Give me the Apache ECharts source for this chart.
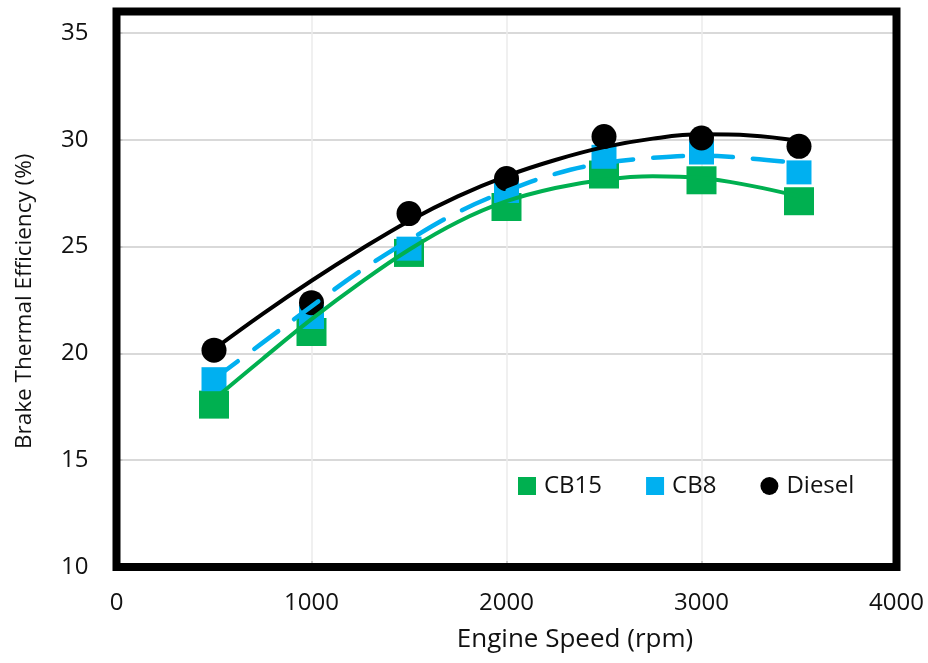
<!DOCTYPE html>
<html>
<head>
<meta charset="utf-8">
<script src="https://cdn.jsdelivr.net/npm/echarts@6/dist/echarts.min.js"></script>
<style>
  html, body { margin: 0; padding: 0; background: #fff; }
  #chart { width: 928px; height: 663px; }
</style>
</head>
<body>
<div id="chart"></div>
<script>
// Measured points
var rpm = [500, 1000, 1500, 2000, 2500, 3000, 3500];
var cb15 = [17.6, 21.0, 24.7, 26.85, 28.37, 28.1, 27.12];
var cb8 = [18.79, 21.7, 24.9, 27.6, 29.2, 29.4, 28.47];
var diesel = [20.15, 22.37, 26.54, 28.18, 30.15, 30.08, 29.69];

// Trend lines
var trendRpm = [500, 750, 1000, 1250, 1500, 1750, 2000, 2250, 2500, 2750, 3000, 3250, 3500];
var cb15Trend = [17.85, 19.75, 21.6, 23.3, 24.85, 26.15, 27.12, 27.74, 28.13, 28.29, 28.21, 27.85, 27.35];
var cb8Trend = [18.8, 20.5, 22.2, 23.85, 25.3, 26.6, 27.6, 28.4, 28.9, 29.15, 29.25, 29.12, 28.9];
var dieselTrend = [20.2, 21.85, 23.4, 24.85, 26.2, 27.35, 28.3, 29.05, 29.65, 30.05, 30.25, 30.2, 29.95];

var xTicks = [0, 1000, 2000, 3000, 4000];
var yTicks = [10, 15, 20, 25, 30, 35];

var names = ['CB15', 'CB8', 'Diesel'];
var colors = ['#00B050', '#00B0F0', '#000000'];

function pairs(xs, ys) { return xs.map(function (x, i) { return [x, ys[i]]; }); }

var FONT = 'Open Sans';

var chart = echarts.init(document.getElementById('chart'), null, { renderer: 'canvas' });
chart.setOption({
  backgroundColor: '#ffffff',
  animation: false,
  textStyle: { fontFamily: FONT },
  grid: {
    show: true, z: 10,
    left: 116.5, right: 31.5, top: 11.5, bottom: 96,
    borderColor: '#000', borderWidth: 8,
    backgroundColor: 'transparent'
  },
  legend: {
    left: 513, top: 469,
    itemWidth: 18, itemHeight: 18, itemGap: 44,
    textStyle: { fontSize: 24, color: '#111', fontFamily: FONT, padding: [0, 0, 0, 3] },
    data: [
      { name: names[0], icon: 'rect' },
      { name: names[1], icon: 'rect' },
      { name: names[2], icon: 'circle' }
    ]
  },
  xAxis: {
    type: 'value', min: xTicks[0], max: xTicks[xTicks.length - 1], interval: 1000,
    name: 'Engine Speed (rpm)', nameLocation: 'middle', nameGap: 60,
    nameTextStyle: { fontSize: 26, color: '#111', fontFamily: FONT, padding: [0, 0, 0, 137] },
    axisLine: { show: false },
    axisTick: { show: true, inside: true, length: 6, lineStyle: { color: '#bfbfbf', width: 1.5 } },
    axisLabel: { fontSize: 24, color: '#111', margin: 24, fontFamily: FONT,
      formatter: function (v) { return String(v); } },
    splitLine: { show: true, showMinLine: false, showMaxLine: false, lineStyle: { color: '#ebebeb', width: 1.5 } }
  },
  yAxis: {
    type: 'value', min: yTicks[0], max: 36, interval: 5,
    name: 'Brake Thermal Efficiency (%)', nameLocation: 'middle', nameGap: 80, nameRotate: 90,
    nameTextStyle: { fontSize: 22.5, color: '#111', fontFamily: FONT, padding: [0, 24, 0, 0] },
    axisLine: { show: false },
    axisTick: { show: true, inside: true, length: 6, lineStyle: { color: '#bfbfbf', width: 1.5 } },
    axisLabel: {
      fontSize: 24, color: '#111', margin: 28, fontFamily: FONT, showMaxLabel: false,
      formatter: function (v) { return yTicks.indexOf(v) >= 0 ? String(v) : ''; }
    },
    splitLine: { show: true, showMinLine: false, showMaxLine: false, lineStyle: { color: '#d9d9d9', width: 2 } }
  },
  series: [
    { name: names[0], type: 'scatter', z: 2, symbol: 'rect', symbolSize: [30, 28],
      itemStyle: { color: colors[0], opacity: 1 }, data: pairs(rpm, cb15) },
    { name: names[1], type: 'scatter', z: 3, symbol: 'rect', symbolSize: [25, 24],
      itemStyle: { color: colors[1], opacity: 1 }, data: pairs(rpm, cb8) },
    { name: names[2], type: 'scatter', z: 4, symbol: 'circle', symbolSize: 25,
      itemStyle: { color: colors[2], opacity: 1 }, data: pairs(rpm, diesel) },
    { name: 'CB15 trend', type: 'line', z: 5, smooth: 0.4, showSymbol: false, silent: true,
      lineStyle: { color: colors[0], width: 4 }, data: pairs(trendRpm, cb15Trend) },
    { name: 'CB8 trend', type: 'line', z: 6, smooth: 0.4, showSymbol: false, silent: true,
      lineStyle: { color: colors[1], width: 4.5, type: [30, 20], cap: 'round' }, data: pairs(trendRpm, cb8Trend) },
    { name: 'Diesel trend', type: 'line', z: 7, smooth: 0.4, showSymbol: false, silent: true,
      lineStyle: { color: colors[2], width: 4 }, data: pairs(trendRpm, dieselTrend) }
  ]
});
</script>
</body>
</html>
